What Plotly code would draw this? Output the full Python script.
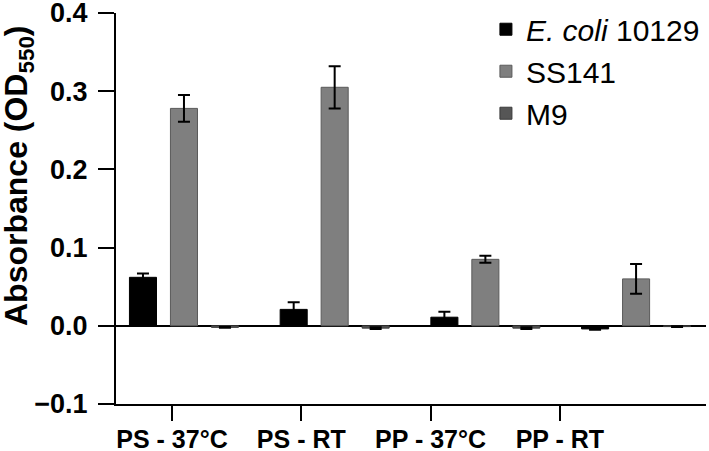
import plotly.graph_objects as go

categories = ["PS - 37°C", "PS - RT", "PP - 37°C", "PP - RT"]
series_names = ["<i>E. coli</i> 10129", "SS141", "M9"]
ecoli_vals = [0.062, 0.021, 0.011, -0.004]
ecoli_err = [0.005, 0.009, 0.007, 0.001]
ss141_vals = [0.278, 0.305, 0.085, 0.060]
ss141_err = [0.017, 0.027, 0.0045, 0.019]
m9_vals = [-0.002, -0.003, -0.003, -0.001]
m9_err = [0.0005, 0.001, 0.001, 0.0005]
y_ticks = [-0.1, 0.0, 0.1, 0.2, 0.3, 0.4]
y_tick_text = ["\u22120.1", "0.0", "0.1", "0.2", "0.3", "0.4"]

fill_colors = ["#000000", "#7f7f7f", "#565656"]
line_colors = ["#000000", "#5a5a5a", "#3a3a3a"]

FONT = "Liberation Sans, Arial, sans-serif"
group_idx = list(range(len(categories)))

fig = go.Figure()
for name, vals, errs, fc, lc in zip(series_names, [ecoli_vals, ss141_vals, m9_vals],
                                    [ecoli_err, ss141_err, m9_err], fill_colors, line_colors):
    fig.add_trace(go.Bar(
        x=group_idx, y=vals, name=name,
        marker=dict(color=fc, line=dict(color=lc, width=1)),
        error_y=dict(type="data", array=errs, color="black", thickness=2, width=6),
    ))

# dummy trace for category tick labels on overlay axis
fig.add_trace(go.Scatter(x=categories, y=[None] * len(categories), xaxis="x2",
                         showlegend=False, hoverinfo="skip", mode="markers"))

fig.update_layout(
    width=709, height=451,
    margin=dict(l=116, r=3, t=13, b=47),
    plot_bgcolor="white", paper_bgcolor="white",
    barmode="group", bargap=0.184, bargroupgap=0.34,
    font=dict(family=FONT, color="black"),
    showlegend=True,
    legend=dict(x=0.627, y=1.025, xanchor="left", yanchor="top",
                font=dict(size=30, family=FONT, color="black"),
                bgcolor="rgba(0,0,0,0)", tracegroupgap=0),
    xaxis=dict(range=[-0.451, 3.464], showticklabels=False, ticks="",
               showline=True, linecolor="black", linewidth=2, showgrid=False,
               zeroline=False, fixedrange=True, automargin=False),
    xaxis2=dict(overlaying="x", anchor="y", side="bottom", type="category",
                categoryorder="array", categoryarray=categories,
                range=[-0.433, 4.13], showline=False, showgrid=False,
                ticks="outside", ticklen=16, tickwidth=2, tickcolor="black",
                automargin=False, ticklabeloverflow="allow", ticklabelstandoff=-3,
                tickfont=dict(size=25, family=FONT, color="black", weight="bold")),
    yaxis=dict(range=[-0.1, 0.4], tickvals=y_ticks, ticktext=y_tick_text,
               ticks="outside", ticklen=16, tickwidth=2, tickcolor="black",
               showline=True, linecolor="black", linewidth=2, showgrid=False,
               zeroline=True, zerolinecolor="black", zerolinewidth=2,
               automargin=False, ticklabeloverflow="allow", ticklabelstandoff=5,
               tickfont=dict(size=27, family=FONT, color="black", weight="bold")),
    annotations=[dict(text="Absorbance (OD<sub>550</sub>)", textangle=-90,
                      xref="paper", yref="paper",
                      x=(19 - 116) / 590, y=1 - (176 - 13) / 391,
                      xanchor="center", yanchor="middle", showarrow=False,
                      font=dict(size=32, family=FONT, color="black", weight="bold"))],
)

fig.write_html("out.html", config={"displayModeBar": False})

# remove the default page margin so the figure sits at the window's top-left corner
with open("out.html", "r", encoding="utf-8") as f:
    html = f.read()
html = html.replace("<head>", "<head><style>html,body{margin:0;padding:0;overflow:hidden;}</style>", 1)
with open("out.html", "w", encoding="utf-8") as f:
    f.write(html)
